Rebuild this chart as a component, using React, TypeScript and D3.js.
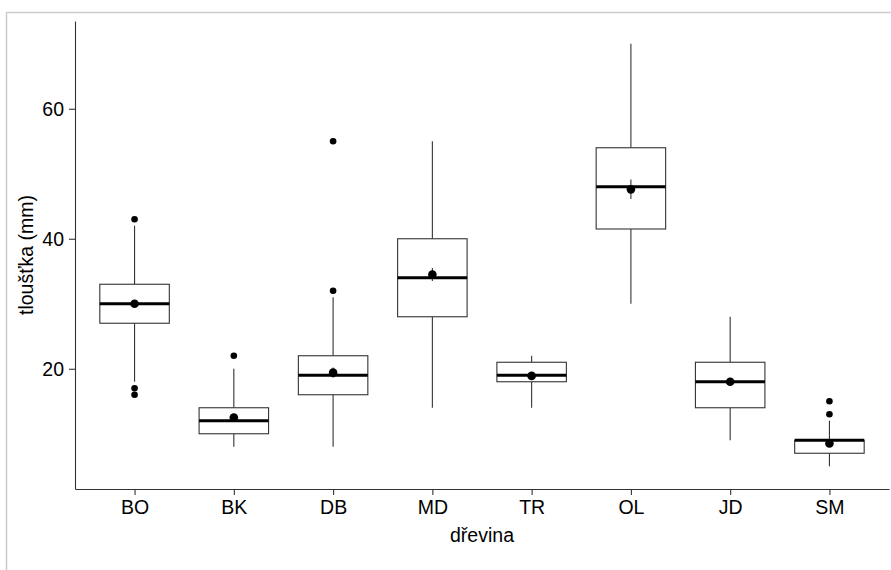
import * as d3 from 'd3';
import React, { useRef, useEffect } from 'react';

// box statistics per species (mm)
const categories = ['BO', 'BK', 'DB', 'MD', 'TR', 'OL', 'JD', 'SM'];
const whiskerLow = [18, 8, 8, 14, 14, 30, 9, 5];
const q1 = [27, 10, 16, 28, 18, 41.5, 14, 7];
const medians = [30, 12, 19, 34, 19, 48, 18, 9];
const q3 = [33, 14, 22, 40, 21, 54, 21, 9];
const whiskerHigh = [42, 20, 31, 55, 22, 70, 28, 12];
const means = [30, 12.5, 19.4, 34.5, 18.9, 47.6, 18, 8.5];
const meanSe = [0.5, 0.4, 0.8, 1.0, 0.3, 1.5, 0.5, 0.3];
const outliers = [[43, 17, 16], [22], [55, 32], [], [], [], [], [15, 13]];
const yTicks = [20, 40, 60];

const width = 891;
const height = 570;
const font = '"Liberation Sans", Arial, sans-serif';

const Boxes = () => {
    const svgRef = useRef(null);
    useEffect(() => {
        draw();
    }, []);

    const draw = () => {
        const svg = d3.select(svgRef.current);
        svg.selectAll('*').remove();

        const margin = { top: 21, right: 2, bottom: 81, left: 75 };
        const _width = width - margin.left - margin.right;
        const _height = height - margin.top - margin.bottom;

        // outer frame of the screenshot
        svg
            .append('rect')
            .attr('x', 6.5)
            .attr('y', 12.5)
            .attr('width', 1000)
            .attr('height', 1000)
            .attr('fill', 'none')
            .attr('stroke', '#cccccc')
            .attr('stroke-width', 1.5);

        const g = svg.append('g').attr('transform', `translate(${margin.left}, ${margin.top})`);

        const xScale = d3.scalePoint().domain(categories).range([0, _width]).padding(0.6);
        const yScale = d3.scaleLinear().domain([1.5, 73.5]).range([_height, 0]);
        const boxW = xScale.step() * 0.7;

        const values = categories.map((name, i) => ({
            name,
            lo: whiskerLow[i],
            q1: q1[i],
            med: medians[i],
            q3: q3[i],
            hi: whiskerHigh[i],
            mean: means[i],
            se: meanSe[i],
            out: outliers[i],
        }));

        const boxes = g
            .selectAll('.box')
            .data(values)
            .enter()
            .append('g')
            .attr('class', 'box')
            .attr('transform', (d) => `translate(${xScale(d.name)}, 0)`);

        boxes
            .append('line')
            .attr('y1', (d) => yScale(d.q3))
            .attr('y2', (d) => yScale(d.hi))
            .attr('stroke', '#333')
            .attr('stroke-width', 1.1);
        boxes
            .append('line')
            .attr('y1', (d) => yScale(d.q1))
            .attr('y2', (d) => yScale(d.lo))
            .attr('stroke', '#333')
            .attr('stroke-width', 1.1);

        boxes
            .append('rect')
            .attr('x', -boxW / 2)
            .attr('y', (d) => yScale(d.q3))
            .attr('width', boxW)
            .attr('height', (d) => yScale(d.q1) - yScale(d.q3))
            .attr('fill', 'white')
            .attr('stroke', '#333')
            .attr('stroke-width', 1.1);

        boxes
            .append('line')
            .attr('x1', -boxW / 2)
            .attr('x2', boxW / 2)
            .attr('y1', (d) => yScale(d.med))
            .attr('y2', (d) => yScale(d.med))
            .attr('stroke', 'black')
            .attr('stroke-width', 3);

        boxes
            .selectAll('.outlier')
            .data((d) => d.out)
            .enter()
            .append('circle')
            .attr('class', 'outlier')
            .attr('cy', (d) => yScale(d))
            .attr('r', 3.3)
            .attr('fill', 'black');

        // mean +- se
        boxes
            .append('line')
            .attr('y1', (d) => yScale(d.mean - d.se))
            .attr('y2', (d) => yScale(d.mean + d.se))
            .attr('stroke', '#333')
            .attr('stroke-width', 1.1);
        boxes
            .append('circle')
            .attr('cy', (d) => yScale(d.mean))
            .attr('r', 4.3)
            .attr('fill', 'black');

        const xAxis = d3.axisBottom(xScale).tickSize(6).tickSizeOuter(0).tickPadding(5);
        const yAxis = d3.axisLeft(yScale).tickValues(yTicks).tickSize(6).tickSizeOuter(0).tickPadding(5);

        const gx = g.append('g').attr('transform', `translate(0, ${_height})`).call(xAxis);
        const gy = g.append('g').call(yAxis);

        for (const ax of [gx, gy]) {
            ax.select('.domain').attr('stroke', '#333').attr('stroke-width', 1.1);
            ax.selectAll('.tick line').attr('stroke', '#333').attr('stroke-width', 1.1);
            ax.selectAll('.tick text')
                .attr('fill', 'black')
                .style('font-family', font)
                .style('font-size', '19.5px');
        }

        svg
            .append('text')
            .attr('x', margin.left + _width / 2)
            .attr('y', 542)
            .attr('text-anchor', 'middle')
            .style('font-family', font)
            .style('font-size', '19.5px')
            .attr('fill', 'black')
            .text('dřevina');

        svg
            .append('text')
            .attr('transform', `translate(33, ${margin.top + _height / 2}) rotate(-90)`)
            .attr('text-anchor', 'middle')
            .style('font-family', font)
            .style('font-size', '19.5px')
            .attr('fill', 'black')
            .text('tloušťka (mm)');
    };

    return (
        <svg
            ref={svgRef}
            width={width}
            height={height}
            style={{ position: 'absolute', left: 0, top: 0, background: 'white' }}
        ></svg>
    );
};

export default function App() {
    return <Boxes />;
}
